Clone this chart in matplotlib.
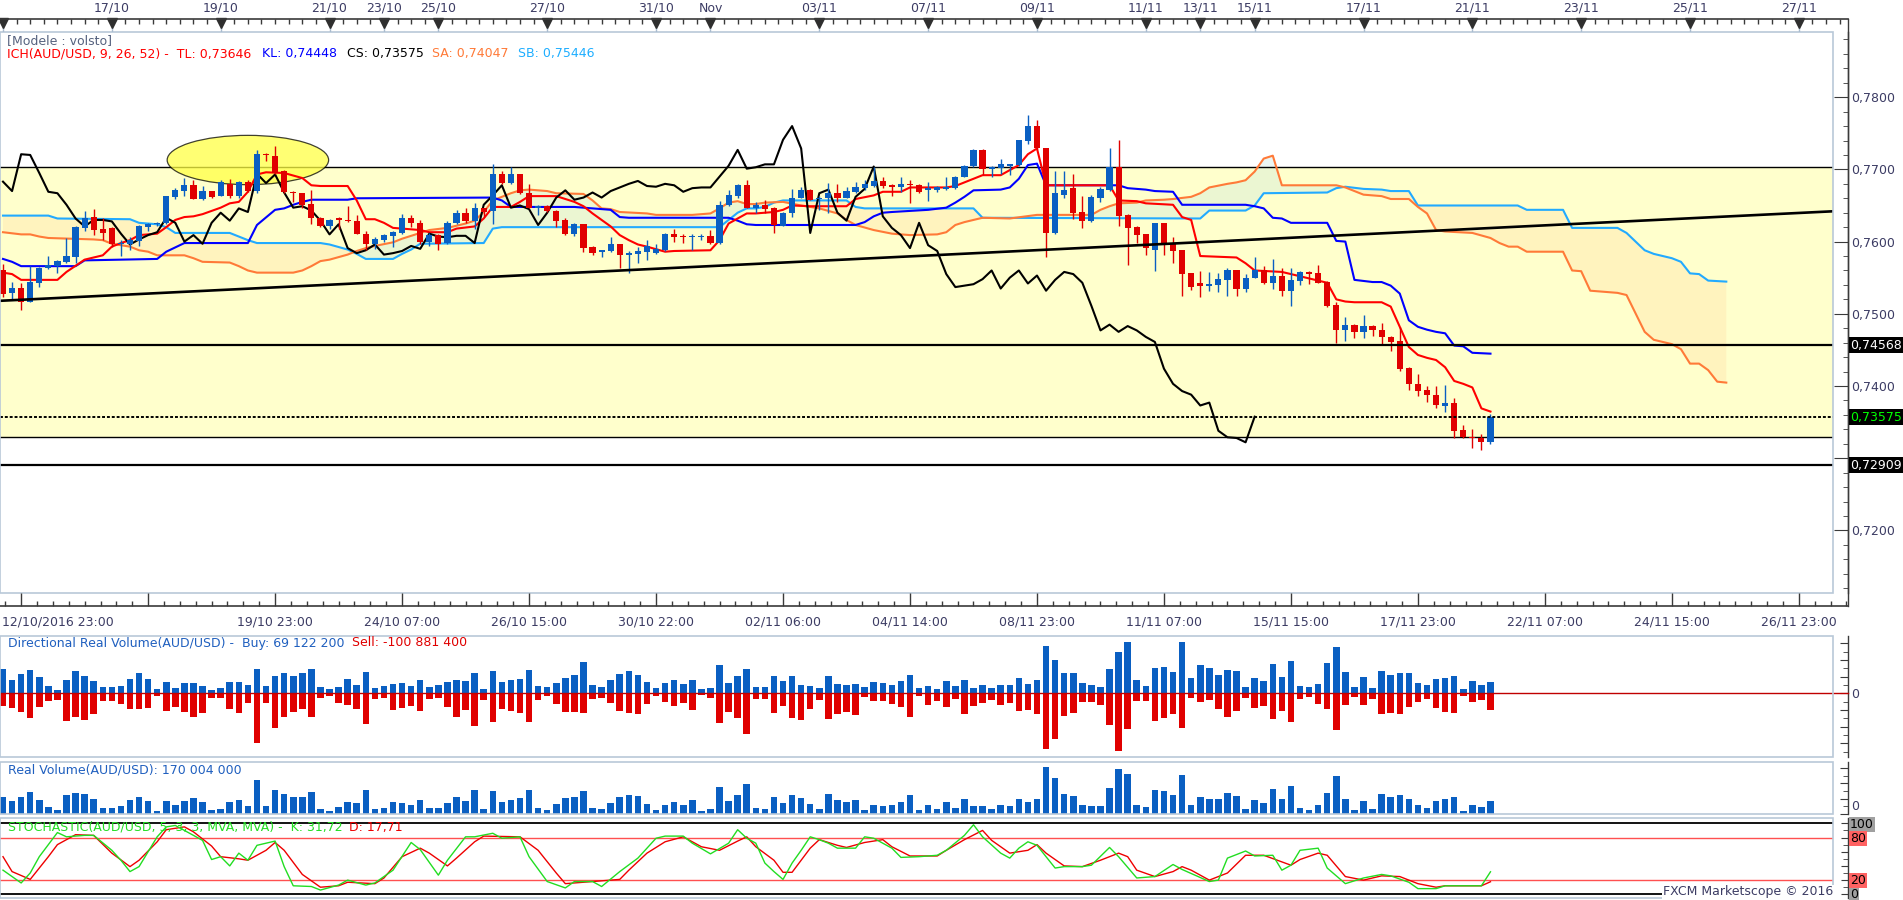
import numpy as np
import matplotlib
matplotlib.use("Agg")
import matplotlib.pyplot as plt
from matplotlib.patches import Ellipse, Rectangle
from matplotlib.lines import Line2D
from matplotlib.ticker import FixedLocator, MultipleLocator, FuncFormatter

# ---------------- candles (AUD/USD, 4h) ----------------
open_ = [.7560,.7529,.7536,.7517,.7543,.7563,.7566,.7572,.7579,.7619,
 .7634,.7617,.7619,.7596,.7596,.7601,.7620,.7624,.7626,.7662,
 .7670,.7678,.7659,.7670,.7663,.7680,.7663,.7682,.7670,.7722,
 .7719,.7698,.7669,.7667,.7652,.7633,.7622,.7632,.7629,.7628,
 .7611,.7596,.7602,.7608,.7612,.7633,.7626,.7600,.7609,.7598,
 .7626,.7640,.7629,.7646,.7643,.7694,.7681,.7693,.7668,.7647,
 .7649,.7643,.7630,.7610,.7624,.7592,.7585,.7587,.7596,.7582,
 .7583,.7586,.7584,.7588,.7611,.7608,.7606,.7606,.7608,.7598,
 .7651,.7663,.7678,.7647,.7651,.7647,.7622,.7639,.7661,.7671,
 .7659,.7661,.7667,.7661,.7669,.7674,.7677,.7684,.7678,.7676,
 .7680,.7678,.7672,.7672,.7673,.7674,.7690,.7705,.7727,.7701,
 .7702,.7705,.7706,.7740,.7760,.7729,.7612,.7664,.7674,.7641,
 .7629,.7661,.7671,.7704,.7637,.7620,.7610,.7589,.7626,.7596,
 .7588,.7556,.7542,.7539,.7540,.7547,.7560,.7535,.7550,.7560,
 .7543,.7553,.7532,.7545,.7558,.7556,.7544,.7512,.7477,.7485,
 .7475,.7483,.7478,.7468,.7462,.7425,.7403,.7394,.7387,.7372,
 .7377,.7339,.7329,.7328,.7322]
high_ = [.7569,.7544,.7542,.7566,.7565,.7580,.7575,.7605,.7621,.7642,
 .7645,.7633,.7620,.7602,.7607,.7623,.7626,.7627,.7663,.7674,
 .7688,.7685,.7677,.7670,.7685,.7687,.7684,.7685,.7727,.7723,
 .7732,.7699,.7670,.7668,.7671,.7634,.7631,.7634,.7649,.7637,
 .7614,.7606,.7611,.7615,.7638,.7637,.7630,.7612,.7610,.7628,
 .7644,.7646,.7653,.7647,.7707,.7698,.7704,.7694,.7680,.7651,
 .7650,.7644,.7633,.7626,.7625,.7594,.7589,.7607,.7597,.7587,
 .7593,.7602,.7596,.7612,.7617,.7610,.7611,.7610,.7616,.7656,
 .7671,.7680,.7686,.7655,.7657,.7648,.7641,.7673,.7675,.7673,
 .7663,.7681,.7680,.7675,.7683,.7685,.7704,.7690,.7680,.7689,
 .7685,.7680,.7683,.7677,.7690,.7691,.7706,.7728,.7728,.7705,
 .7714,.7708,.7741,.7776,.7769,.7730,.7698,.7698,.7693,.7663,
 .7665,.7675,.7729,.7741,.7638,.7621,.7611,.7626,.7626,.7607,
 .7589,.7557,.7559,.7558,.7556,.7563,.7561,.7555,.7579,.7566,
 .7576,.7563,.7563,.7559,.7559,.7568,.7545,.7517,.7495,.7486,
 .7498,.7484,.7487,.7469,.7482,.7426,.7416,.7400,.7400,.7401,
 .7383,.7346,.7341,.7333,.7361]
low_ = [.7523,.7521,.7505,.7516,.7537,.7562,.7556,.7571,.7570,.7614,
 .7609,.7602,.7593,.7580,.7589,.7594,.7614,.7621,.7625,.7659,
 .7663,.7659,.7658,.7661,.7663,.7661,.7660,.7669,.7667,.7712,
 .7694,.7668,.7655,.7646,.7624,.7620,.7618,.7618,.7627,.7610,
 .7589,.7590,.7600,.7593,.7610,.7620,.7596,.7594,.7588,.7597,
 .7625,.7626,.7618,.7634,.7625,.7680,.7680,.7666,.7646,.7637,
 .7641,.7620,.7609,.7608,.7586,.7581,.7579,.7586,.7564,.7557,
 .7570,.7574,.7583,.7587,.7600,.7598,.7589,.7602,.7597,.7597,
 .7649,.7661,.7646,.7640,.7639,.7612,.7622,.7634,.7660,.7657,
 .7644,.7639,.7655,.7660,.7667,.7671,.7676,.7674,.7663,.7669,
 .7653,.7668,.7656,.7669,.7671,.7673,.7689,.7704,.7692,.7689,
 .7693,.7692,.7705,.7735,.7728,.7579,.7611,.7660,.7631,.7619,
 .7627,.7655,.7670,.7621,.7567,.7598,.7581,.7559,.7581,.7570,
 .7525,.7533,.7523,.7532,.7530,.7525,.7525,.7530,.7549,.7541,
 .7534,.7525,.7511,.7540,.7541,.7542,.7510,.7460,.7463,.7467,
 .7467,.7469,.7457,.7449,.7421,.7395,.7386,.7378,.7370,.7364,
 .7328,.7328,.7314,.7312,.7319]
close_ = [.7528,.7536,.7517,.7544,.7564,.7567,.7573,.7580,.7620,.7633,
 .7616,.7612,.7596,.7598,.7602,.7621,.7625,.7626,.7663,.7671,
 .7678,.7659,.7670,.7662,.7683,.7663,.7683,.7670,.7721,.7720,
 .7695,.7669,.7667,.7651,.7632,.7621,.7630,.7630,.7628,.7611,
 .7596,.7603,.7609,.7613,.7633,.7626,.7600,.7609,.7597,.7626,
 .7640,.7629,.7646,.7641,.7694,.7681,.7693,.7668,.7647,.7649,
 .7643,.7629,.7610,.7624,.7591,.7584,.7588,.7596,.7582,.7584,
 .7587,.7594,.7590,.7611,.7607,.7606,.7608,.7608,.7598,.7651,
 .7664,.7678,.7647,.7650,.7645,.7623,.7640,.7661,.7671,.7658,
 .7661,.7668,.7661,.7670,.7675,.7680,.7684,.7677,.7676,.7680,
 .7678,.7669,.7674,.7675,.7675,.7690,.7705,.7727,.7701,.7703,
 .7707,.7707,.7741,.7760,.7729,.7612,.7667,.7672,.7640,.7629,
 .7662,.7673,.7704,.7635,.7619,.7609,.7591,.7626,.7595,.7587,
 .7555,.7537,.7539,.7541,.7548,.7560,.7535,.7550,.7560,.7542,
 .7553,.7532,.7547,.7558,.7555,.7543,.7511,.7477,.7485,.7475,
 .7483,.7477,.7468,.7461,.7424,.7403,.7393,.7388,.7373,.7377,
 .7338,.7329,.7328,.7322,.73575]

# ---------------- Ichimoku lines (bar index, value) ----------------
tl_x = [0,1,2,6,7,9,11,12,13,14,15,17,18,19,20,21,22,24,25,26,27,28,29,31,33,34,35,38,39,40,41,42,43,46,47,49,50,52,53,54,56,57,58,61,63,64,65,66,67,68,69,70,71,73,74,78,79,80,81,82,83,85,86,87,89,93,94,96,97,99,100,104,105,107,108,110,111,112,113,114,115,122,123,125,126,129,130,131,132,136,137,138,141,145,146,147,148,149,152,153,154,155,156,157,158,159,160,161,162,163,164]
tl_y = [.7557,.7555,.7547,.7547,.7558,.7575,.7581,.7593,.7598,.7602,.7609,.7611,.7620,.7630,.7634,.7635,.7638,.7647,.7653,.7655,.7669,.7693,.7696,.7695,.7688,.7678,.7677,.7677,.7657,.7631,.7631,.7626,.7619,.7616,.7613,.7613,.7618,.7621,.7632,.7648,.7648,.7655,.7663,.7663,.7655,.7649,.7639,.7630,.7621,.7609,.7602,.7596,.7593,.7586,.7587,.7588,.7602,.7625,.7632,.7639,.7639,.7641,.7644,.7650,.7649,.7649,.7659,.7664,.7669,.7669,.7675,.7675,.7677,.7687,.7692,.7692,.7699,.7706,.7721,.7729,.7678,.7678,.7657,.7656,.7653,.7651,.7634,.7630,.7580,.7578,.7570,.7560,.7558,.7546,.7543,.7520,.7517,.7516,.7516,.7510,.7482,.7454,.7443,.7439,.7436,.7426,.7407,.7403,.7398,.7369,.73646]
kl_x = [0,1,2,8,9,17,18,20,27,28,30,31,32,33,34,38,39,54,55,56,63,65,67,68,69,80,81,82,83,94,95,96,97,98,102,104,105,106,107,110,111,112,113,114,115,123,124,126,127,129,130,137,138,139,140,141,142,146,147,148,149,151,152,153,154,155,156,157,158,159,160,161,162,164]
kl_y = [.7576,.7572,.7566,.7566,.7574,.7576,.7586,.7598,.7598,.7623,.7644,.7646,.7651,.7655,.7658,.7658,.7660,.7661,.7657,.7648,.7648,.7646,.7644,.7634,.7633,.7633,.7629,.7624,.7623,.7623,.7627,.7635,.7640,.7641,.7644,.7647,.7654,.7662,.7671,.7672,.7675,.7687,.7706,.7708,.7678,.7678,.7674,.7672,.7670,.7669,.7651,.7651,.7649,.7646,.7633,.7632,.7626,.7626,.7601,.7600,.7547,.7544,.7544,.7539,.7528,.7491,.7482,.7478,.7475,.7473,.7456,.7455,.7446,.74448]
sa_x = [0,2,3,4,5,10,11,12,14,15,16,17,20,21,22,25,26,27,28,32,33,34,35,36,38,39,40,41,43,44,46,47,49,51,52,53,54,55,56,57,58,60,61,64,65,66,67,68,71,72,76,78,79,80,81,82,83,84,86,88,90,92,93,94,96,98,100,103,104,105,106,108,111,114,120,121,122,123,125,126,128,129,131,132,133,135,136,137,138,139,140,141,147,148,150,152,153,155,156,157,158,159,162,164,165,166,167,168,172,173,174,175,178,179,181,182,184,185,186,187,188,189,190]
sa_y = [.7613,.7610,.7610,.7607,.7605,.7603,.7602,.7597,.7593,.7588,.7586,.7581,.7581,.7577,.7572,.7571,.7566,.7560,.7557,.7557,.7560,.7566,.7573,.7575,.7582,.7587,.7591,.7594,.7599,.7604,.7612,.7616,.7619,.7625,.7629,.7641,.7657,.7662,.7667,.7671,.7672,.7670,.7667,.7666,.7657,.7646,.7645,.7641,.7639,.7637,.7637,.7639,.7646,.7654,.7656,.7652,.7652,.7654,.7655,.7650,.7646,.7639,.7630,.7623,.7616,.7611,.7609,.7610,.7613,.7623,.7627,.7633,.7632,.7637,.7637,.7644,.7649,.7653,.7654,.7657,.7658,.7659,.7662,.7667,.7675,.7680,.7682,.7685,.7697,.7715,.7719,.7678,.7678,.7675,.7665,.7663,.7659,.7659,.7648,.7639,.7616,.7614,.7612,.7605,.7598,.7593,.7593,.7586,.7586,.7560,.7559,.7532,.7529,.7526,.7475,.7464,.7458,.7451,.7431,.7431,.7422,.7406,.74047]
sb_x = [0,5,6,14,15,17,18,19,25,26,27,28,35,36,38,39,40,43,44,45,46,53,54,55,79,80,81,82,83,84,85,86,93,94,95,107,108,132,133,137,138,139,146,147,148,150,152,153,155,156,167,168,172,173,178,179,181,182,184,185,186,187,188,190]
sb_y = [.7636,.7636,.7632,.7631,.7626,.7624,.7620,.7612,.7612,.7607,.7602,.7598,.7598,.7596,.7589,.7583,.7576,.7576,.7583,.7589,.7597,.7598,.7618,.7620,.7620,.7630,.7640,.7646,.7646,.7648,.7654,.7657,.7657,.7648,.7646,.7646,.7633,.7632,.7643,.7643,.7650,.7667,.7668,.7674,.7676,.7673,.7672,.7670,.7670,.7650,.7650,.7644,.7644,.7619,.7619,.7612,.7588,.7583,.7577,.7572,.7556,.7555,.7546,.75446]

# ---------------- drawn levels ----------------
band_top = 0.7704
band_bottom = 0.7330
level_kl = 0.74568
level_last = 0.73575
level_low = 0.72909
trend_x = [-0.33, 201.8]
trend_y = [0.7518, 0.7642]
ellipse_center = (27.0, 0.7713)
ellipse_size = (17.8, 0.00683)

# ---------------- volumes (millions) ----------------
buy_vol = [146,80,116,140,96,44,20,80,134,104,
 74,38,38,44,86,122,86,26,68,32,
 62,62,44,20,32,68,68,50,146,44,
 104,122,104,122,146,38,26,38,86,50,
 128,32,44,56,62,44,80,38,50,68,
 80,76,122,26,134,68,80,86,140,44,
 38,62,92,110,188,50,38,80,116,134,
 110,68,32,62,80,56,80,26,32,170,
 62,104,146,38,38,104,74,104,50,44,
 32,104,56,50,56,38,68,62,50,74,
 110,32,44,26,74,44,80,32,50,32,
 50,50,92,56,80,284,200,122,122,62,
 50,38,146,248,308,80,44,152,158,128,
 308,92,170,152,110,140,134,38,92,74,
 176,98,194,44,38,56,182,278,128,38,
 98,32,134,110,122,122,62,50,86,92,
 104,26,74,50,69.12]
sell_vol = [76,88,112,146,82,46,38,166,142,160,
 124,46,46,64,94,94,88,16,106,82,
 112,142,118,28,28,94,118,58,296,58,
 208,142,112,94,142,28,16,58,70,94,
 184,34,28,100,88,76,106,34,28,82,
 142,100,196,40,172,94,106,118,172,40,
 16,64,112,112,118,34,28,58,106,118,
 124,64,16,52,76,58,100,10,28,178,
 112,148,244,36,32,116,74,146,158,92,
 38,152,122,110,128,20,44,48,62,80,
 140,14,68,44,80,32,122,74,56,38,
 68,56,104,98,122,332,272,134,116,50,
 50,68,188,344,212,44,44,164,146,122,
 206,26,50,38,92,140,104,26,86,74,
 152,104,170,32,20,62,92,218,68,20,
 68,32,122,116,122,80,50,32,86,110,
 116,14,50,38,100.88]

# ---------------- stochastic (bar index, value) ----------------
k_x = [0,2,3,4,6,7,9,10,12,13,14,15,17,18,19,20,22,23,24,25,26,27,28,30,31,32,34,35,37,38,40,41,43,45,46,48,49,51,52,54,55,57,58,60,62,63,65,66,68,70,72,73,75,76,78,80,81,82,83,84,85,86,87,88,89,90,91,92,94,95,96,98,99,101,103,104,106,107,108,110,111,112,113,114,116,117,119,120,122,123,125,127,129,130,133,134,135,137,138,140,141,142,143,145,146,148,150,152,153,155,156,158,159,163,164]
k_y = [34,16,30,53,87,81,83,83,62,48,32,39,81,95,97,90,76,49,53,40,58,48,69,75,39,12,11,6,13,20,13,16,34,73,63,27,48,81,81,86,79,81,53,18,9,18,18,11,32,51,79,82,82,72,57,72,91,79,72,44,32,21,44,62,81,77,72,65,65,81,79,65,52,53,55,62,83,98,81,58,51,65,74,69,37,39,39,41,66,53,23,25,42,35,18,20,51,61,54,55,34,41,62,65,37,15,23,28,26,17,8,8,12,12,31.72]
d_x = [0,1,3,5,6,7,8,10,12,14,15,17,18,20,21,23,24,26,27,29,30,31,33,35,37,38,41,42,44,46,47,49,50,52,53,57,59,61,62,64,68,69,71,73,75,77,79,81,82,83,85,86,87,88,89,90,92,93,95,97,98,100,103,104,106,108,109,111,113,114,115,117,119,121,123,124,125,127,129,130,131,133,135,137,139,142,143,145,146,148,150,152,154,156,158,159,163,164]
d_y = [53,32,21,53,70,77,84,83,58,39,48,74,91,95,88,68,53,50,48,62,73,62,28,10,12,17,15,23,53,65,58,40,51,74,82,81,62,30,15,17,21,34,58,74,81,67,62,75,81,67,48,31,31,48,65,77,69,66,73,77,67,54,54,62,77,90,76,58,62,70,58,40,39,48,58,53,34,25,32,39,34,20,30,55,55,41,49,58,55,25,20,26,25,15,10,12,12,17.71]

# ---------------- axis labels ----------------
top_pos = [0,12,24,36,42,48,60,72,78,90,102,114,126,132,138,150,162,174,186,198]
top_lab = ['','17/10','19/10','21/10','23/10','25/10','27/10','31/10','Nov','03/11','07/11',
           '09/11','11/11','13/11','15/11','17/11','21/11','23/11','25/11','27/11']
bot_pos = [2,16,30,44,58,72,86,100,114,128,142,156,170,184,198]
bot_lab = ['','','19/10 23:00','24/10 07:00','26/10 15:00','30/10 22:00','02/11 06:00',
           '04/11 14:00','08/11 23:00','11/11 07:00','15/11 15:00','17/11 23:00',
           '22/11 07:00','24/11 15:00','26/11 23:00']
first_date_label = '12/10/2016 23:00'
price_ticks = [0.72, 0.73, 0.74, 0.75, 0.76, 0.77, 0.78]

# ---------------- layout / style ----------------
W, H = 1903, 900
BAR0, BARW = 3.0, 9.07
FS = 9
TXT = '#3c3c64'
AXC = '#3a3a3a'
FRAME = '#b9c8d8'
BLUE = '#0a5fc2'
RED = '#e00000'
plt.rcParams['font.family'] = ['DejaVu Sans']
plt.rcParams['font.size'] = FS


def px_rect(x0, y0, x1, y1):
    return [x0 / W, 1 - y1 / H, (x1 - x0) / W, (y1 - y0) / H]


def xlim_px(x0, x1):
    return ((x0 - BAR0) / BARW, (x1 - BAR0) / BARW)


def ftext(x, y, s, **kw):
    kw.setdefault('ha', 'left')
    kw.setdefault('va', 'center')
    kw.setdefault('fontsize', FS)
    return fig.text(x / W, 1 - y / H, s, **kw)


def fline(x0, y0, x1, y1, **kw):
    fig.add_artist(Line2D([x0 / W, x1 / W], [1 - y0 / H, 1 - y1 / H],
                          transform=fig.transFigure, **kw))


def frame(a):
    for s in ('left', 'top', 'bottom'):
        a.spines[s].set_visible(False)
    a.add_patch(Rectangle((0, 0), 1, 1, transform=a.transAxes, fill=False,
                          ec=FRAME, lw=1.2, clip_on=False, zorder=20))
    sp = a.spines['right']
    sp.set_position(('outward', 15 * 0.72))
    sp.set_color(AXC)
    sp.set_linewidth(1.0)
    a.yaxis.set_ticks_position('right')
    a.tick_params(axis='y', which='both', direction='in', colors=AXC,
                  labelcolor=TXT, labelsize=FS, pad=2)
    a.tick_params(axis='x', which='both', bottom=False, top=False,
                  labelbottom=False, labeltop=False)


fig = plt.figure(figsize=(W / 100, H / 100), dpi=100, facecolor='white')

# ======== price panel ========
ax = fig.add_axes(px_rect(0, 32, 1833, 593))
ax.set_xlim(*xlim_px(0, 1833))
ax.set_ylim(0.71133, 0.78903)
frame(ax)

ax.axhspan(band_bottom, band_top, color='#FFFFCC', lw=0, zorder=0.5)
grid = np.linspace(0, 190, 1901)
sa_g = np.interp(grid, sa_x, sa_y)
sb_g = np.interp(grid, sb_x, sb_y)
ax.fill_between(grid, sa_g, sb_g, where=sa_g >= sb_g, interpolate=True,
                color='#C8E8E0', alpha=0.35, lw=0, zorder=1)
ax.fill_between(grid, sa_g, sb_g, where=sa_g < sb_g, interpolate=True,
                color='#FFD9A0', alpha=0.3, lw=0, zorder=1)
ax.axhline(band_top, color='black', lw=1.0, zorder=1.5)
ax.axhline(band_bottom, color='black', lw=1.0, zorder=1.5)
ax.add_patch(Ellipse(ellipse_center, ellipse_size[0], ellipse_size[1],
                     fc='#FFFF44', ec='black', lw=0.9, alpha=0.75, zorder=2))

ax.plot(sb_x, sb_y, color='#22AAFF', lw=1.5, zorder=3)
ax.plot(sa_x, sa_y, color='#FF7A38', lw=1.5, zorder=3)
ax.plot(kl_x, kl_y, color='#0000FF', lw=1.5, zorder=3.2)
ax.plot(tl_x, tl_y, color='#FF0000', lw=1.5, zorder=3.3)
c_arr = np.array(close_)
ax.plot(np.arange(len(close_) - 26), c_arr[26:], color='black', lw=1.5, zorder=3.4)

idx = np.arange(len(close_))
o_arr = np.array(open_)
h_arr = np.array(high_)
l_arr = np.array(low_)
cols = np.where(c_arr >= o_arr, BLUE, RED)
ax.vlines(idx, l_arr, h_arr, colors=cols, lw=1.0, zorder=4)
ax.bar(idx, np.maximum(np.abs(c_arr - o_arr), 0.0002), 0.68,
       bottom=np.minimum(o_arr, c_arr), color=cols, lw=0, zorder=4.5)

ax.plot(trend_x, trend_y, color='black', lw=1.9, zorder=6)
ax.axhline(level_kl, color='black', lw=1.6, zorder=6)
ax.axhline(level_low, color='black', lw=1.6, zorder=6)
ax.axhline(level_last, color='black', lw=1.4, ls=(0, (1.5, 1.0)), zorder=6)

ax.yaxis.set_major_locator(FixedLocator(price_ticks))
ax.yaxis.set_major_formatter(FuncFormatter(
    lambda v, p: '' if abs(v - 0.73) < 1e-6 else f'{v:.4f}'.replace('.', ',')))
ax.yaxis.set_minor_locator(MultipleLocator(0.002))
ax.tick_params(axis='y', which='major', length=10)
ax.tick_params(axis='y', which='minor', length=3.6)

# legend texts
ftext(7, 41, '[Modele : volsto]', color='#56627e')
ftext(7, 54, 'ICH(AUD/USD, 9, 26, 52) -  TL: 0,73646', color='#FF0000')
ftext(262, 54, 'KL: 0,74448', color='#0000FF')
ftext(347, 54, 'CS: 0,73575', color='black')
ftext(432, 54, 'SA: 0,74047', color='#FF7A38')
ftext(518, 54, 'SB: 0,75446', color='#1EAEFF')

# value boxes on the price axis
bx = dict(boxstyle='square,pad=0.1', fc='black', ec='none')
ftext(1850, 345, '0,74568', color='white', bbox=bx)
ftext(1850, 417, '0,73575', color='#00FF00', bbox=bx)
ftext(1850, 465, '0,72909', color='white', bbox=bx)

# ======== top date axis ========
axt = fig.add_axes(px_rect(0, 19, 1848, 32))
axt.set_xlim(*xlim_px(0, 1848))
axt.set_ylim(0, 1)
axt.patch.set_alpha(0)
for s in ('left', 'right', 'bottom'):
    axt.spines[s].set_visible(False)
axt.spines['top'].set_color(AXC)
axt.spines['top'].set_linewidth(1.2)
axt.set_yticks([])
axt.xaxis.set_ticks_position('top')
axt.set_xticks(top_pos, labels=top_lab)
axt.xaxis.set_minor_locator(MultipleLocator(1.5))
axt.tick_params(axis='x', which='major', direction='in', length=0, pad=3,
                labelsize=FS, labelcolor=TXT)
axt.tick_params(axis='x', which='minor', direction='in', length=3.6, width=1,
                color=AXC)
axt.vlines(top_pos, 0, 0.4, color='#a9bccf', lw=1)
axt.plot(top_pos, [0.69] * len(top_pos), ls='', marker='v', ms=6.5,
         color='#2e2e2e', clip_on=False)

# ======== bottom date axis ========
axb = fig.add_axes(px_rect(0, 593, 1848, 606))
axb.set_xlim(*xlim_px(0, 1848))
axb.set_ylim(0, 1)
axb.patch.set_alpha(0)
for s in ('left', 'right', 'top'):
    axb.spines[s].set_visible(False)
axb.spines['bottom'].set_color(AXC)
axb.spines['bottom'].set_linewidth(1.2)
axb.set_yticks([])
axb.set_xticks(bot_pos, labels=bot_lab)
axb.set_xticks(np.arange(bot_pos[0] - 1.75, 203.5, 1.75), minor=True)
axb.tick_params(axis='x', which='major', direction='in', length=9.4, width=1,
                color=AXC, pad=7, labelsize=FS, labelcolor=TXT)
axb.tick_params(axis='x', which='minor', direction='in', length=3.6, width=1,
                color=AXC)
ftext(2, 622, first_date_label, color=TXT)
fline(1848, 19, 1848, 606, color=AXC, lw=1.0)

# ======== directional volume ========
av = fig.add_axes(px_rect(0, 636, 1833, 757))
av.set_xlim(*xlim_px(0, 1833))
av.set_ylim(-382, 344)
frame(av)
buy_arr = np.array(buy_vol)
sell_arr = np.array(sell_vol)
av.bar(idx, buy_arr, 0.72, color=BLUE, lw=0, zorder=2)
av.bar(idx, -sell_arr, 0.72, color=RED, lw=0, zorder=2)
xl_full = xlim_px(0, 1848)
av.plot(xl_full, [0, 0], color='#c00000', lw=1.0, zorder=3, clip_on=False)
av.yaxis.set_major_locator(FixedLocator([-300, -200, -100, 0, 100, 200, 300]))
av.yaxis.set_major_formatter(FuncFormatter(lambda v, p: '0' if abs(v) < 1e-9 else ''))
av.yaxis.set_minor_locator(MultipleLocator(50))
av.tick_params(axis='y', which='major', length=6)
av.tick_params(axis='y', which='minor', length=3.6)
ftext(8, 643, 'Directional Real Volume(AUD/USD) -  Buy: 69 122 200', color='#1f5fbf')
ftext(352, 643, 'Sell: -100 881 400', color='#e00000')

# ======== real volume ========
av2 = fig.add_axes(px_rect(0, 762, 1833, 814))
av2.set_xlim(*xlim_px(0, 1833))
av2.set_ylim(0, 679)
frame(av2)
av2.bar(idx, buy_arr + sell_arr, 0.72, color=BLUE, lw=0, zorder=2)
av2.yaxis.set_major_locator(MultipleLocator(200))
av2.yaxis.set_major_formatter(FuncFormatter(lambda v, p: ''))
av2.yaxis.set_minor_locator(MultipleLocator(100))
av2.tick_params(axis='y', which='major', length=6)
av2.tick_params(axis='y', which='minor', length=3.6)
ftext(8, 770, 'Real Volume(AUD/USD): 170 004 000', color='#1f5fbf')
ftext(1851, 806, '0', color=TXT)

# ======== stochastic ========
ast = fig.add_axes(px_rect(0, 818, 1833, 898))
ast.set_xlim(*xlim_px(0, 1833))
ast.set_ylim(-5.2, 107.5)
frame(ast)
ast.axhline(100, color='black', lw=1.3, zorder=1)
ast.axhline(0, color='black', lw=1.3, zorder=1)
ast.axhline(80, color='#ff5050', lw=1.0, zorder=1)
ast.axhline(20, color='#ff5050', lw=1.0, zorder=1)
ast.plot(d_x, d_y, color='#ee0000', lw=1.0, zorder=3)
ast.plot(k_x, k_y, color='#22dd22', lw=1.0, zorder=3)
ast.yaxis.set_major_locator(MultipleLocator(20))
ast.yaxis.set_major_formatter(FuncFormatter(lambda v, p: ''))
ast.yaxis.set_minor_locator(MultipleLocator(10))
ast.tick_params(axis='y', which='major', length=5)
ast.tick_params(axis='y', which='minor', length=3.6)
ftext(8, 827, 'STOCHASTIC(AUD/USD, 5, 3, 3, MVA, MVA) -  K: 31,72', color='#22dd22')
ftext(349, 827, 'D: 17,71', color='#ee0000')
gbox = dict(boxstyle='square,pad=0.08', fc='#a0a0a0', ec='none')
rbox = dict(boxstyle='square,pad=0.08', fc='#ff6262', ec='none')
ftext(1850, 824, '100', color='black', bbox=gbox)
ftext(1850, 838, '80', color='black', bbox=rbox)
ftext(1850, 880, '20', color='black', bbox=rbox)
ftext(1850, 895, '0', color='black', bbox=gbox)
ftext(1833, 892, 'FXCM Marketscope \u00a9 2016', color=TXT, ha='right',
      bbox=dict(boxstyle='square,pad=0.05', fc='white', ec='none'))

fig.savefig('out.png', dpi=100, facecolor='white')
